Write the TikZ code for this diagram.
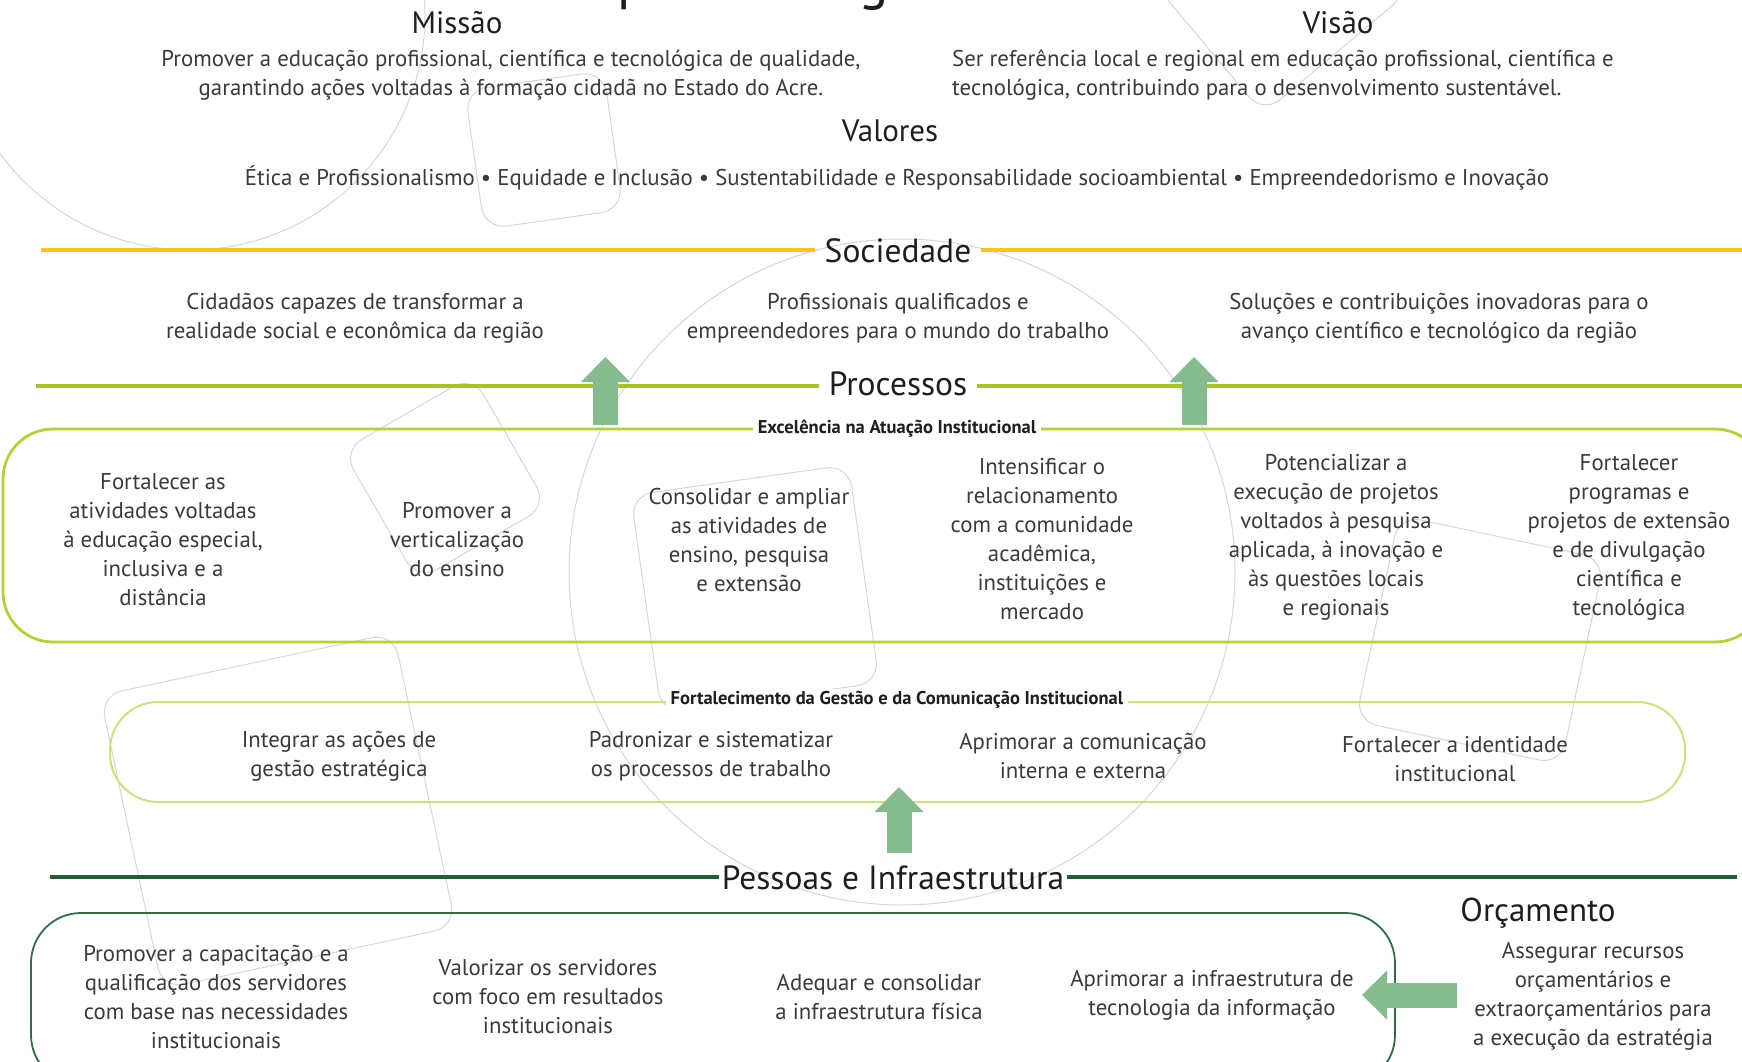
\documentclass[tikz,border=0pt]{standalone}
\usepackage{fontspec}
\setmainfont{PT Sans}
\usetikzlibrary{arrows.meta}

\definecolor{ink}{HTML}{3A3A3A}
\definecolor{headink}{HTML}{1E1E1E}
\definecolor{socyellow}{RGB}{249,200,14}
\definecolor{procgreen}{RGB}{166,197,30}
\definecolor{excgreen}{RGB}{179,210,52}
\definecolor{fortgreen}{RGB}{205,226,122}
\definecolor{pessgreen}{RGB}{31,95,53}
\definecolor{pessbox}{RGB}{47,110,68}
\definecolor{arrowgreen}{RGB}{134,186,143}
\definecolor{decogray}{RGB}{214,214,214}

% faint rotated rounded square of the background pattern
\newcommand\decosq[4]{%
  \draw[deco, shift={(#1,#2)}, rotate=#4, rounded corners=22pt]
    (-#3/2,-#3/2) rectangle (#3/2,#3/2);}

\begin{document}
\begin{tikzpicture}[x=1pt, y=-1pt,
  body/.style={font=\fontsize{22.8}{29}\selectfont, text=ink, align=center, inner sep=0pt},
  head/.style={font=\fontsize{31}{34}\selectfont, text=headink, inner sep=0pt},
  band/.style={font=\fontsize{33.5}{36}\selectfont, text=headink, inner ysep=0pt, inner xsep=10pt},
  boxlabel/.style={font=\bfseries\fontsize{18.5}{20}\selectfont, text=headink, fill=white, inner xsep=5pt, inner ysep=2pt},
  deco/.style={draw=decogray, line width=1pt},
  blockarrow/.style={draw=arrowgreen, line width=25pt,
    -{Triangle[width=49pt, length=25pt, line width=0pt]}},
]
\useasboundingbox (0,0) rectangle (1742,1062);

% ---------- background pattern ----------
\draw[deco] (902,572) circle[radius=333];
\draw[deco] (190,15) circle[radius=235];
\decosq{445}{478}{150}{30}
\decosq{755}{589}{220}{8}
\decosq{544}{150}{140}{8}
\decosq{1275}{-20}{190}{40}
\decosq{278}{811}{300}{12}
\decosq{1480}{640}{210}{-12}

% ---------- title (cut by the page edge) ----------
\node[font=\fontsize{56.6}{60}\selectfont, text=headink, anchor=base west, inner sep=0pt]
  (title) at (544,-1) {Mapa Estratégico};

% ---------- mission, vision, values ----------
\node[head] (missao) at (457,23) {Missão};
\node[body] (missaotxt) at (511,75) {Promover a educação profissional, científica e tecnológica de qualidade,\\garantindo ações voltadas à formação cidadã no Estado do Acre.};
\node[head] (visao) at (1338,23) {Visão};
\node[body, align=left, anchor=west] (visaotxt) at (952,75) {Ser referência local e regional em educação profissional, científica e\\tecnológica, contribuindo para o desenvolvimento sustentável.};
\node[head] (valores) at (890,131) {Valores};
\node[body] (valorestxt) at (897,178) {Ética e Profissionalismo • Equidade e Inclusão • Sustentabilidade e Responsabilidade socioambiental • Empreendedorismo e Inovação};

% ---------- Sociedade ----------
\node[band] (soc) at (898,251) {Sociedade};
\coordinate (socL) at (41,250);
\coordinate (socR) at (1745,250);
\draw[socyellow, line width=3.5pt] (socL) -- (socL -| soc.west);
\draw[socyellow, line width=3.5pt] (socR -| soc.east) -- (socR);

\node[body] (soc1) at (355,318) {Cidadãos capazes de transformar a\\realidade social e econômica da região};
\node[body] (soc2) at (898,318) {Profissionais qualificados e\\empreendedores para o mundo do trabalho};
\node[body] (soc3) at (1439,318) {Soluções e contribuições inovadoras para o\\avanço científico e tecnológico da região};

% ---------- Processos ----------
\node[band] (proc) at (898,384) {Processos};
\coordinate (procL) at (36,386);
\coordinate (procR) at (1745,386);
\draw[procgreen, line width=3.5pt] (procL) -- (procL -| proc.west);
\draw[procgreen, line width=3.5pt] (procR -| proc.east) -- (procR);

% Excelência na Atuação Institucional
\node[draw=excgreen, line width=2.8pt, rounded corners=50pt, minimum width=1762pt,
  minimum height=213pt, inner sep=0pt] (exc) at (884,535.5) {};
\node[boxlabel] (exclabel) at (897,429) {Excelência na Atuação Institucional};

\node[body] (e1) at (163,540) {Fortalecer as\\atividades voltadas\\à educação especial,\\inclusiva e a\\distância};
\node[body] (e2) at (457,540) {Promover a\\verticalização\\do ensino};
\node[body] (e3) at (749,540) {Consolidar e ampliar\\as atividades de\\ensino, pesquisa\\e extensão};
\node[body] (e4) at (1042,539) {Intensificar o\\relacionamento\\com a comunidade\\acadêmica,\\instituições e\\mercado};
\node[body] (e5) at (1336,537) {Potencializar a\\execução de projetos\\voltados à pesquisa\\aplicada, à inovação e\\às questões locais\\e regionais};
\node[body] (e6) at (1629,537) {Fortalecer\\programas e\\projetos de extensão\\e de divulgação\\científica e\\tecnológica};

% Fortalecimento da Gestão e da Comunicação Institucional
\node[draw=fortgreen, line width=2pt, rounded corners=48pt, minimum width=1575pt,
  minimum height=100pt, inner sep=0pt] (fort) at (897.5,752) {};
\node[boxlabel] (fortlabel) at (897,700) {Fortalecimento da Gestão e da Comunicação Institucional};

\node[body] (f1) at (339,756) {Integrar as ações de\\gestão estratégica};
\node[body] (f2) at (711,756) {Padronizar e sistematizar\\os processos de trabalho};
\node[body] (f3) at (1083,756) {Aprimorar a comunicação\\interna e externa};
\node[body] (f4) at (1455,759) {Fortalecer a identidade\\institucional};

% ---------- Pessoas e Infraestrutura ----------
\node[band, inner xsep=3pt] (pess) at (893,878) {Pessoas e Infraestrutura};
\coordinate (pessL) at (50,877);
\coordinate (pessR) at (1737,877);
\draw[pessgreen, line width=3.5pt] (pessL) -- (pessL -| pess.west);
\draw[pessgreen, line width=3.5pt] (pessR -| pess.east) -- (pessR);

\node[draw=pessbox, line width=1.8pt, rounded corners=50pt, minimum width=1364pt,
  minimum height=172pt, inner sep=0pt] (pessbx) at (713,999) {};

\node[body] (p1) at (216,997) {Promover a capacitação e a\\qualificação dos servidores\\com base nas necessidades\\institucionais};
\node[body] (p2) at (548,997) {Valorizar os servidores\\com foco em resultados\\institucionais};
\node[body] (p3) at (879,997) {Adequar e consolidar\\a infraestrutura física};
\node[body] (p4) at (1212,995) {Aprimorar a infraestrutura de\\tecnologia da informação};

% ---------- Orçamento ----------
\node[head, font=\fontsize{33}{36}\selectfont] (orc) at (1538,913) {Orçamento};
\node[body] (orctxt) at (1593,996) {Assegurar recursos\\orçamentários e\\extraorçamentários para\\a execução da estratégia};

% ---------- block arrows ----------
\coordinate (a1s) at (605.5,425);  \coordinate (a1e) at (605.5,357);
\coordinate (a2s) at (1194,425);   \coordinate (a2e) at (1194,357);
\coordinate (a3s) at (899,853);    \coordinate (a3e) at (899,787);
\coordinate (a4s) at (1457,995);   \coordinate (a4e) at (1362,995);
\draw[blockarrow] (a1s) -- (a1e);
\draw[blockarrow] (a2s) -- (a2e);
\draw[blockarrow] (a3s) -- (a3e);
\draw[blockarrow] (a4s) -- (a4e);
\end{tikzpicture}
\end{document}
